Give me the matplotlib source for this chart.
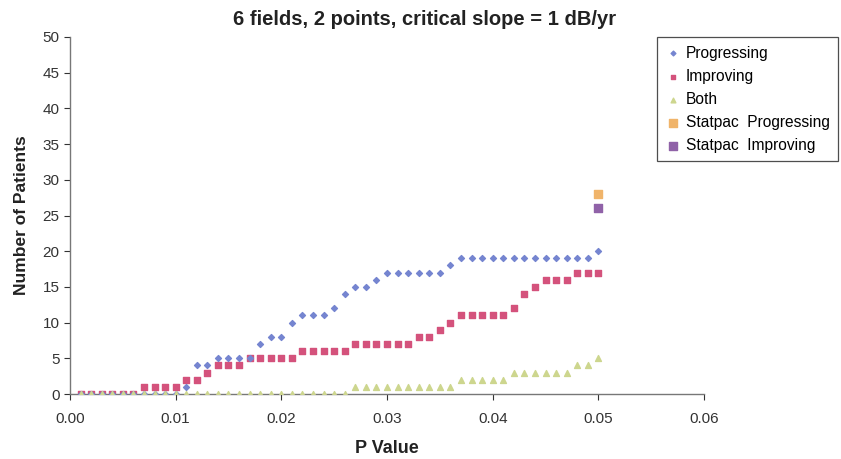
import numpy as np
import matplotlib.pyplot as plt

plt.rcParams['font.family'] = ['Liberation Sans', 'DejaVu Sans']

# p values 0.001 .. 0.050
p_values = [round(0.001 * i, 3) for i in range(1, 51)]

progressing = [0, 0, 0, 0, 0, 0, 0, 0, 0, 0,
               1, 4, 4, 5, 5, 5, 5, 7, 8, 8,
               10, 11, 11, 11, 12, 14, 15, 15, 16, 17,
               17, 17, 17, 17, 17, 18, 19, 19, 19, 19,
               19, 19, 19, 19, 19, 19, 19, 19, 19, 20]
improving = [0, 0, 0, 0, 0, 0, 1, 1, 1, 1,
             2, 2, 3, 4, 4, 4, 5, 5, 5, 5,
             5, 6, 6, 6, 6, 6, 7, 7, 7, 7,
             7, 7, 8, 8, 9, 10, 11, 11, 11, 11,
             11, 12, 14, 15, 16, 16, 16, 17, 17, 17]
both = [0, 0, 0, 0, 0, 0, 0, 0, 0, 0,
        0, 0, 0, 0, 0, 0, 0, 0, 0, 0,
        0, 0, 0, 0, 0, 0, 1, 1, 1, 1,
        1, 1, 1, 1, 1, 1, 2, 2, 2, 2,
        2, 3, 3, 3, 3, 3, 3, 4, 4, 5]

statpac_p = [0.05]
statpac_progressing = [28]
statpac_improving = [26]

fig = plt.figure(figsize=(8.41, 4.59), dpi=100)
ax = fig.add_axes([0.0832, 0.1416, 0.754, 0.7778])

ax.scatter(p_values, progressing, marker='D', s=9, color='#7585d0', label='Progressing', zorder=3)
ax.scatter(p_values, improving, marker='s', s=20, color='#d4527c', label='Improving', zorder=2)
ax.scatter(p_values, both, marker='^', s=18, color='#cdd68e', label='Both', zorder=4)
ax.scatter(statpac_p, statpac_progressing, marker='s', s=40, color='#f0b46a', label='Statpac  Progressing', zorder=3)
ax.scatter(statpac_p, statpac_improving, marker='s', s=40, color='#9062a8', label='Statpac  Improving', zorder=3)

ax.set_xlim(0, 0.06)
ax.set_ylim(0, 50)
ax.set_xticks(np.arange(0, 0.061, 0.01))
ax.set_xticklabels([f'{v:.2f}' for v in np.arange(0, 0.061, 0.01)])
ax.set_yticks(range(0, 51, 5))
ax.tick_params(labelsize=11, colors='#333333', length=4, width=0.8)
ax.tick_params(axis='x', pad=9)
for side in ['top', 'right']:
    ax.spines[side].set_visible(False)
for side in ['left', 'bottom']:
    ax.spines[side].set_color('#777777')
    ax.spines[side].set_linewidth(1.0)

ax.set_xlabel('P Value', fontsize=13, fontweight='bold', color='#222222', labelpad=10)
ax.set_ylabel('Number of Patients', fontsize=12.5, fontweight='bold', color='#222222', labelpad=10)
fig.text(0.505, 0.957, '6 fields, 2 points, critical slope = 1 dB/yr',
         ha='center', va='center', fontsize=14.5, fontweight='bold', color='#222222')

leg = ax.legend(loc='upper left', bbox_to_anchor=(657 / 841, 1 - 37 / 459),
                bbox_transform=fig.transFigure, fontsize=11.2, frameon=True,
                fancybox=False, borderpad=0.55, labelspacing=0.52,
                handletextpad=0.3, handlelength=1.0, borderaxespad=0,
                markerscale=0.8)
leg.get_frame().set_edgecolor('#222222')
leg.get_frame().set_linewidth(0.9)

fig.savefig('out.png', dpi=100)
